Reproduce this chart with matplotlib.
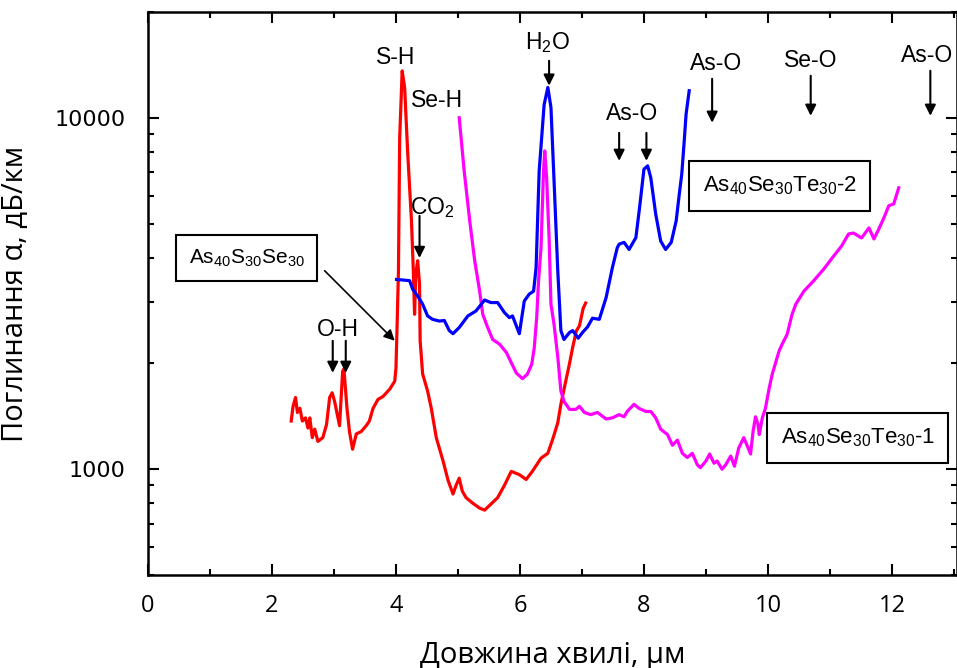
#!/usr/bin/env python
# Filename: plot_absorption
"""
introduction: absorption spectra of chalcogenide glasses (log scale)
"""

import numpy as np
import matplotlib
matplotlib.use('Agg')
import matplotlib.pyplot as plt
from matplotlib.ticker import MultipleLocator, FixedLocator, FixedFormatter, NullFormatter, LogLocator

# As40S30Se30 (red)
red_wl = [2.31, 2.34, 2.38, 2.41, 2.45, 2.49, 2.54, 2.58, 2.61, 2.65, 2.69, 2.74, 2.82, 2.88, 2.93,
          2.97, 3.01, 3.09, 3.14, 3.16, 3.21, 3.25, 3.30, 3.36, 3.44, 3.52, 3.57, 3.63, 3.71, 3.79,
          3.90, 3.98, 4.00, 4.02, 4.04, 4.06, 4.10, 4.14, 4.19, 4.25, 4.28, 4.30, 4.32, 4.35, 4.38,
          4.39, 4.43, 4.51, 4.57, 4.65, 4.76, 4.84, 4.92, 4.97, 5.02, 5.07, 5.13, 5.24, 5.35, 5.43,
          5.53, 5.64, 5.75, 5.86, 5.99, 6.10, 6.20, 6.34, 6.45, 6.53, 6.61, 6.66, 6.74, 6.80, 6.85,
          6.91, 6.96, 7.02, 7.06]
red_alpha = [1371, 1510, 1600, 1450, 1490, 1371, 1400, 1310, 1400, 1230, 1300, 1200, 1230, 1340, 1600,
             1650, 1560, 1330, 1900, 1930, 1490, 1280, 1140, 1260, 1280, 1330, 1370, 1490, 1580, 1610,
             1690, 1780, 1940, 2640, 3670, 8770, 13600, 12170, 7900, 5090, 3670, 2760, 3600, 3920, 3370,
             2320, 1867, 1670, 1490, 1230, 1055, 930, 850, 900, 943, 866, 830, 800, 775, 765,
             795, 830, 900, 986, 965, 935, 986, 1075, 1110, 1220, 1355, 1530, 1785, 2000, 2220,
             2475, 2560, 2870, 2970]

# As40Se30Te30-2 (blue)
blue_wl = [4.01, 4.22, 4.27, 4.35, 4.43, 4.51, 4.59, 4.70, 4.78, 4.86, 4.92, 5.02, 5.16, 5.29, 5.43,
           5.53, 5.64, 5.75, 5.83, 5.88, 5.99, 6.07, 6.15, 6.22, 6.26, 6.31, 6.39, 6.45, 6.50, 6.55,
           6.61, 6.66, 6.71, 6.80, 6.85, 6.94, 7.01, 7.09, 7.17, 7.28, 7.39, 7.49, 7.57, 7.60, 7.68,
           7.76, 7.87, 7.93, 8.00, 8.06, 8.11, 8.19, 8.27, 8.35, 8.44, 8.52, 8.57, 8.61, 8.65, 8.68,
           8.73]
blue_alpha = [3467, 3440, 3250, 3110, 2950, 2730, 2670, 2640, 2650, 2480, 2430, 2530, 2730, 2820, 3030,
              2980, 2980, 2790, 2700, 2730, 2430, 3010, 3150, 3210, 3740, 7060, 10900, 12200, 10700, 6620,
              3670, 2480, 2340, 2450, 2480, 2360, 2450, 2540, 2690, 2670, 3080, 3740, 4270, 4370, 4420,
              4220, 4560, 5560, 7140, 7300, 6760, 5320, 4460, 4220, 4420, 5090, 6060, 6910, 8600, 10250,
              11940]

# As40Se30Te30-1 (magenta)
mag_wl = [5.02, 5.10, 5.19, 5.27, 5.35, 5.40, 5.48, 5.56, 5.67, 5.78, 5.86, 5.94, 6.04, 6.12, 6.19,
          6.23, 6.27, 6.30, 6.34, 6.38, 6.40, 6.43, 6.47, 6.50, 6.55, 6.61, 6.66, 6.71, 6.80, 6.90,
          6.96, 7.04, 7.14, 7.25, 7.39, 7.49, 7.60, 7.68, 7.73, 7.84, 7.92, 8.03, 8.11, 8.19, 8.27,
          8.38, 8.46, 8.54, 8.62, 8.70, 8.78, 8.86, 8.91, 9.00, 9.06, 9.13, 9.18, 9.26, 9.32, 9.40,
          9.46, 9.53, 9.61, 9.68, 9.72, 9.76, 9.80, 9.84, 9.86, 9.91, 9.96, 10.02, 10.07, 10.18, 10.23,
          10.31, 10.39, 10.45, 10.58, 10.74, 10.90, 11.06, 11.19, 11.30, 11.38, 11.51, 11.63, 11.71, 11.79,
          11.87, 11.95, 12.03, 12.11]
mag_alpha = [10000, 7060, 5090, 3920, 3210, 2760, 2530, 2340, 2270, 2150, 2010, 1880, 1810, 1865, 1990,
             2210, 2700, 3440, 4270, 7060, 8050, 6760, 4560, 2950, 2580, 2090, 1670, 1560, 1480, 1480,
             1510, 1450, 1430, 1450, 1390, 1400, 1430, 1410, 1460, 1530, 1490, 1460, 1460, 1400, 1300,
             1255, 1170, 1210, 1110, 1080, 1110, 1030, 1010, 1055, 1105, 1040, 1055, 1000, 1030, 1090,
             1020, 1150, 1230, 1150, 1105, 1280, 1410, 1340, 1255, 1400, 1490, 1700, 1865, 2170, 2270,
             2420, 2760, 2950, 3210, 3440, 3710, 4040, 4320, 4670, 4700, 4550, 4860, 4520, 4830,
             5190, 5620, 5690, 6320]

x_ticks = [0, 2, 4, 6, 8, 10, 12]
y_ticks = [1000, 10000]
y_tick_labels = ['1000', '10000']


def add_arrow(ax, x, y_from, y_to):
    ax.annotate('', xy=(x, y_to), xytext=(x, y_from),
                arrowprops=dict(arrowstyle='-|>', color='k', lw=1.5, mutation_scale=16,
                                shrinkA=0, shrinkB=0))


def main():
    # subscripts in the same face as the labels
    plt.rcParams['mathtext.fontset'] = 'custom'
    plt.rcParams['mathtext.rm'] = 'Liberation Sans'
    plt.rcParams['mathtext.it'] = 'Liberation Sans:italic'
    plt.rcParams['mathtext.default'] = 'rm'

    fig = plt.figure(figsize=(9.57, 6.68), dpi=100)
    ax = fig.add_axes([148/957, 93/668, 809/957, 563/668])

    ax.plot(red_wl, red_alpha, color='#ff0000', lw=2.3)
    ax.plot(mag_wl, mag_alpha, color='#ff00ff', lw=2.3)
    ax.plot(blue_wl, blue_alpha, color='#0000ff', lw=2.3)

    ax.set_yscale('log')
    ax.set_xlim(0, 13.05)
    ax.set_ylim(500, 20000)

    ax.xaxis.set_major_locator(FixedLocator(x_ticks))
    ax.xaxis.set_minor_locator(MultipleLocator(1))
    ax.yaxis.set_major_locator(FixedLocator(y_ticks))
    ax.yaxis.set_major_formatter(FixedFormatter(y_tick_labels))
    ax.yaxis.set_minor_locator(LogLocator(base=10, subs=np.arange(2, 10)))
    ax.yaxis.set_minor_formatter(NullFormatter())

    ax.tick_params(which='both', direction='in', top=True, right=True, width=1.5, color='k')
    ax.tick_params(which='major', length=8)
    ax.tick_params(which='minor', length=4)
    ax.tick_params(axis='x', pad=14, labelsize=17)
    ax.tick_params(axis='y', pad=16, labelsize=16)
    for lbl in ax.get_xticklabels():
        lbl.set_family(['Open Sans', 'DejaVu Sans'])
    for lbl in ax.get_yticklabels():
        lbl.set_family('DejaVu Sans')
    for sp in ax.spines.values():
        sp.set_linewidth(1.8)

    ax.set_xlabel('Довжина хвилі, μм', fontsize=21, family=['Open Sans', 'DejaVu Sans'], labelpad=16)
    ax.set_ylabel('Поглинання α, дБ/км', fontsize=21, family=['Open Sans', 'DejaVu Sans'])
    ax.yaxis.set_label_coords(-0.146, 0.5)

    ann_font = dict(fontsize=16.5, family='Liberation Sans', ha='center', va='center')
    ax.text(3.99, 14830, 'S-H', **ann_font)
    ax.text(4.67, 11180, 'Se-H', **ann_font)
    ax.text(6.44, 16360, 'H$_2$O', **ann_font)
    add_arrow(ax, 6.47, 14530, 12340)
    ax.text(4.59, 5550, 'CO$_2$', **ann_font)
    add_arrow(ax, 4.38, 5260, 3990)
    ax.text(3.06, 2500, 'O-H', **ann_font)
    add_arrow(ax, 2.98, 2320, 1880)
    add_arrow(ax, 3.19, 2320, 1880)
    ax.text(7.81, 10270, 'As-O', **ann_font)
    add_arrow(ax, 7.60, 9060, 7540)
    add_arrow(ax, 8.04, 9060, 7540)
    ax.text(9.16, 14250, 'As-O', **ann_font)
    add_arrow(ax, 9.10, 12910, 9680)
    ax.text(10.69, 14530, 'Se-O', **ann_font)
    add_arrow(ax, 10.69, 13170, 10130)
    ax.text(12.56, 15020, 'As-O', **ann_font)
    add_arrow(ax, 12.62, 13610, 10130)

    box = dict(boxstyle='square,pad=0.6', fc='white', ec='k', lw=1.5)
    ax.text(1.59, 3990, 'As$_{40}$S$_{30}$Se$_{30}$', fontsize=15, family='Liberation Sans',
            ha='center', va='center', bbox=box)
    ax.annotate('', xy=(3.98, 2320), xytext=(2.85, 3670),
                arrowprops=dict(arrowstyle='-|>', color='k', lw=1.2, mutation_scale=16,
                                shrinkA=0, shrinkB=0))
    ax.text(10.19, 6400, 'As$_{40}$Se$_{30}$Te$_{30}$-2', fontsize=16, family='Liberation Sans',
            ha='center', va='center', bbox=box)
    ax.text(11.45, 1227, 'As$_{40}$Se$_{30}$Te$_{30}$-1', fontsize=16, family='Liberation Sans',
            ha='center', va='center', bbox=box, zorder=5)

    fig.savefig('out.png', dpi=100)


if __name__ == "__main__":
    main()
